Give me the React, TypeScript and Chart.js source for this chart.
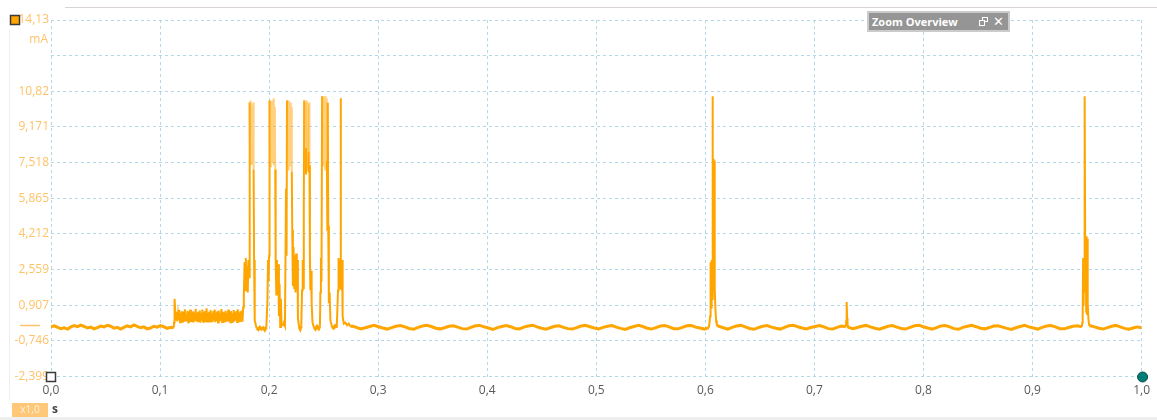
import React, { useEffect, useRef } from "react";
import { Chart, registerables } from "chart.js";
Chart.register(...registerables);

// ---------- axis definitions ----------
const xTicks = [0, 0.1, 0.2, 0.3, 0.4, 0.5, 0.6, 0.7, 0.8, 0.9, 1.0];
const xTickLabels = ["0,0", "0,1", "0,2", "0,3", "0,4", "0,5", "0,6", "0,7", "0,8", "0,9", "1,0"];
const yTicks = [-2.399, -0.746, 0.907, 2.559, 4.212, 5.865, 7.518, 9.171, 10.82, 12.477, 14.13];
const yTickLabels = ["-2,399", "-0,746", "0,907", "2,559", "4,212", "5,865", "7,518", "9,171", "10,82", "", "14,13"];
const yUnit = "mA";
const xUnit = "s";
const zoomFactorLabel = "x1,0";
const overviewTitle = "Zoom Overview";

// ---------- current trace (time in s, current in mA) ----------
// uniformly sampled stretches: values between a start and end time
const idleA = { start: 0, end: 0.1125, values: [-0.1, -0.05, -0.12, -0.18, -0.14, -0.2, -0.1, -0.04, -0.09, -0.02, -0.08, -0.15, -0.11, -0.19, -0.13, -0.06, -0.1, -0.03, -0.07, -0.16, -0.12, -0.2, -0.12, -0.05, -0.1, -0.01, -0.08, -0.14, -0.1, -0.19, -0.15, -0.07, -0.11, -0.04, -0.09, -0.17, -0.12, -0.14] };

const stepUp: [number, number][] = [
  [0.1128, 0.1], [0.1131, 0.9], [0.1135, 1.2], [0.1140, 0.5],
];

const preBurst = { start: 0.1146, end: 0.1762, values: [0.2, 0.6, 0.15, 0.5, 0.22, 0.68, 0.12, 0.55, 0.18, 0.62, 0.1, 0.58, 0.2, 0.72, 0.14, 0.5, 0.17, 0.65, 0.12, 0.6, 0.2, 0.7, 0.13, 0.52, 0.16, 0.62, 0.11, 0.57, 0.19, 0.74, 0.15, 0.55, 0.12, 0.6, 0.18, 0.66, 0.1, 0.53, 0.2, 0.7, 0.14, 0.58, 0.17, 0.63, 0.12, 0.76, 0.15, 0.55, 0.19, 0.6, 0.11, 0.68, 0.16, 0.52, 0.13, 0.64, 0.2, 0.7, 0.12, 0.57, 0.18, 0.62, 0.1, 0.66, 0.15, 0.54, 0.19, 0.73, 0.13, 0.6, 0.17, 0.58, 0.11, 0.65, 0.2, 0.55, 0.14, 0.7, 0.16, 0.6, 0.12, 0.63, 0.18, 0.52, 0.1, 0.68, 0.15, 0.58, 0.2, 0.64, 0.13, 0.72, 0.17, 0.56, 0.12, 0.62, 0.19, 0.66, 0.14, 0.8] };

const burst: [number, number][] = [
  [0.1768, 1.3], [0.1775, 2.9], [0.178, 1.6], [0.1786, 3.1], [0.1792, 1.8], [0.1798, 2.7], [0.1804, 1.5], [0.181, 3.0], [0.1816, 2.2],
  [0.1822, 10.3], [0.1826, 7.5], [0.183, 10.4], [0.1834, 7.6], [0.1838, 9.8], [0.1842, 7.4], [0.1846, 10.2], [0.185, 7.7], [0.1854, 10.3], [0.1858, 7.2], [0.1862, 3.0], [0.1866, 1.0], [0.187, 0.2],
  [0.1885, -0.15], [0.19, -0.22], [0.1915, -0.12], [0.193, -0.2], [0.1945, -0.14], [0.196, -0.24], [0.1975, -0.1],
  [0.1985, 1.2], [0.199, 3.0], [0.1995, 2.0], [0.2, 3.2],
  [0.2004, 10.4], [0.2008, 7.6], [0.2012, 10.3], [0.2016, 7.3], [0.202, 9.0], [0.2024, 7.8], [0.2028, 10.4], [0.2032, 7.5], [0.2036, 10.2], [0.204, 7.4], [0.2044, 10.5], [0.2048, 7.9], [0.2052, 10.1], [0.2056, 7.2], [0.206, 3.1],
  [0.2066, 1.4], [0.2072, 3.0], [0.2078, 1.6], [0.2084, 2.8], [0.209, 0.4], [0.2096, 1.9], [0.2102, -0.1], [0.2108, 1.2], [0.2114, 0.0],
  [0.2125, -0.05], [0.2135, 0.1], [0.2145, -0.05],
  [0.215, 3.0], [0.2155, 6.3], [0.216, 3.2], [0.2164, 10.4], [0.2168, 7.5], [0.2172, 10.2], [0.2176, 7.2], [0.218, 10.4], [0.2184, 7.6], [0.2188, 9.9], [0.2192, 7.4], [0.2196, 10.3], [0.22, 7.8], [0.2204, 10.1], [0.2208, 7.1], [0.2212, 4.4], [0.2218, 1.8], [0.2224, 3.6], [0.223, 1.7], [0.2236, 3.2], [0.2242, 1.5], [0.2248, 3.3], [0.2254, 1.6], [0.226, 3.0], [0.2264, 0.3],
  [0.2275, -0.1], [0.2285, -0.2], [0.2295, -0.05],
  [0.2302, 1.6], [0.2308, 3.0], [0.2314, 1.7], [0.2318, 5.6],
  [0.2322, 10.4], [0.2326, 7.4], [0.233, 10.3], [0.2334, 7.0], [0.2338, 8.2], [0.2342, 7.3], [0.2346, 10.4], [0.235, 7.6], [0.2354, 10.2], [0.2358, 7.1], [0.2362, 8.0], [0.2366, 10.3], [0.237, 7.4], [0.2374, 3.2], [0.2378, 1.6], [0.2385, 2.5], [0.239, 1.0], [0.2398, 0.1],
  [0.241, -0.1], [0.2425, -0.2], [0.244, -0.08], [0.2455, -0.18], [0.2466, -0.05],
  [0.247, 1.5], [0.2475, 3.1], [0.248, 2.0],
  [0.2486, 10.6], [0.249, 7.6], [0.2494, 10.5], [0.2498, 7.4], [0.2502, 10.6], [0.2506, 7.8], [0.251, 10.4], [0.2514, 7.2], [0.2518, 10.6], [0.2522, 7.5], [0.2526, 10.5], [0.253, 7.6], [0.2534, 4.4], [0.2538, 10.3], [0.2542, 4.6], [0.2548, 1.0], [0.2555, 1.5], [0.2562, 0.2],
  [0.2575, -0.05], [0.259, -0.15], [0.2605, -0.05], [0.262, -0.14],
  [0.2632, 1.6], [0.2637, 3.1], [0.2642, 1.7], [0.2647, 3.0], [0.2652, 1.8], [0.2656, 10.5], [0.2659, 3.1], [0.2664, 1.6], [0.2669, 3.0], [0.2674, 0.4],
  [0.2685, 0.05], [0.27, 0.1], [0.2715, -0.02], [0.273, 0.05], [0.2745, -0.08],
];

const idleB = { start: 0.276, end: 0.6032, values: [-0.06, -0.12, -0.19, -0.14, -0.08, -0.03, -0.09, -0.15, -0.2, -0.13, -0.07, -0.04, -0.1, -0.17, -0.21, -0.12, -0.06, -0.02, -0.08, -0.16, -0.19, -0.14, -0.07, -0.05, -0.11, -0.18, -0.2, -0.12, -0.05, -0.03, -0.1, -0.15, -0.22, -0.13, -0.08, -0.04, -0.09, -0.17, -0.19, -0.11, -0.06, -0.02, -0.1, -0.16, -0.21, -0.14, -0.07, -0.05, -0.12, -0.18, -0.2, -0.13, -0.06, -0.03, -0.09, -0.15, -0.19, -0.12, -0.07, -0.04, -0.11, -0.17, -0.22, -0.14, -0.08, -0.02, -0.08, -0.16, -0.2, -0.13, -0.06, -0.04, -0.1, -0.18, -0.19, -0.12, -0.05, -0.03, -0.11, -0.15, -0.2, -0.13] };

const spikeA: [number, number][] = [
  [0.6038, 0.1], [0.6044, 0.4], [0.6048, 2.9], [0.6053, 0.8], [0.6058, 3.0], [0.6062, 1.2], [0.6066, 10.6], [0.6069, 2.0], [0.6072, 7.7], [0.6076, 1.6], [0.608, 7.6], [0.6084, 1.5], [0.6088, 1.7], [0.6092, 0.8], [0.6098, 0.2], [0.6105, 0.0], [0.6115, -0.05],
];

const idleC = { start: 0.6125, end: 0.7288, values: [-0.08, -0.14, -0.2, -0.12, -0.06, -0.03, -0.1, -0.17, -0.21, -0.13, -0.07, -0.04, -0.11, -0.16, -0.2, -0.12, -0.05, -0.02, -0.09, -0.15, -0.19, -0.13, -0.08, -0.04, -0.1, -0.18, -0.2, -0.12, -0.06, -0.09] };

const spikeB: [number, number][] = [
  [0.7292, 0.2], [0.7295, 0.7], [0.7297, 1.05], [0.73, 0.3], [0.7304, -0.05],
];

const idleD = { start: 0.7312, end: 0.9452, values: [-0.12, -0.18, -0.13, -0.07, -0.03, -0.1, -0.16, -0.21, -0.14, -0.07, -0.04, -0.11, -0.17, -0.2, -0.12, -0.05, -0.02, -0.09, -0.15, -0.2, -0.13, -0.06, -0.04, -0.1, -0.18, -0.21, -0.12, -0.07, -0.03, -0.09, -0.16, -0.19, -0.13, -0.06, -0.05, -0.11, -0.17, -0.22, -0.14, -0.08, -0.03, -0.1, -0.15, -0.2, -0.12, -0.06, -0.04, -0.1, -0.18, -0.19, -0.13, -0.07, -0.05, -0.1] };

const spikeC: [number, number][] = [
  [0.9457, 0.1], [0.946, 0.5], [0.9464, 3.1], [0.9468, 0.9], [0.9472, 3.0], [0.9476, 1.5], [0.948, 10.6], [0.9484, 2.0], [0.9488, 3.6], [0.9492, 0.6], [0.9496, 4.1], [0.95, 0.5], [0.9504, 4.0], [0.9508, 1.0], [0.9512, 0.3], [0.952, -0.05],
];

const idleE = { start: 0.953, end: 1.0, values: [-0.05, -0.1, -0.16, -0.2, -0.13, -0.07, -0.03, -0.1, -0.17, -0.21, -0.15, -0.1, -0.14] };

// ---------- style ----------
const TRACE = "#FFA500";
const TRACE_LIGHT = "rgba(255,170,20,0.55)";
const LABEL_ORANGE = "#ffc266";
const GRID = "#b3d9e8";
const FONT = "'Open Sans', 'Noto Sans', sans-serif";

function sampled(seg: { start: number; end: number; values: number[] }) {
  const n = seg.values.length;
  const step = (seg.end - seg.start) / (n - 1);
  return seg.values.map((v, i) => ({ x: seg.start + i * step, y: v }));
}
const pairs = (a: [number, number][]) => a.map(([x, y]) => ({ x, y }));

const tracePoints = [
  ...sampled(idleA),
  ...pairs(stepUp),
  ...sampled(preBurst),
  ...pairs(burst),
  ...sampled(idleB),
  ...pairs(spikeA),
  ...sampled(idleC),
  ...pairs(spikeB),
  ...sampled(idleD),
  ...pairs(spikeC),
  ...sampled(idleE),
];

const overlayPlugin = {
  id: "scopeOverlay",
  beforeDraw(chart: any) {
    const ctx = chart.ctx;
    ctx.save();
    ctx.fillStyle = "#ffffff";
    ctx.fillRect(0, 0, chart.width, chart.height);
    ctx.strokeStyle = "#d9d2d2";
    ctx.lineWidth = 1;
    ctx.beginPath();
    ctx.moveTo(65, 7.5);
    ctx.lineTo(chart.width, 7.5);
    ctx.stroke();
    ctx.strokeStyle = "#efefef";
    ctx.beginPath();
    ctx.moveTo(9.5, 30);
    ctx.lineTo(9.5, 400);
    ctx.stroke();
    ctx.fillStyle = "#eeeeee";
    ctx.fillRect(0, 417, chart.width, 3);
    ctx.restore();
  },
  afterDraw(chart: any) {
    const { ctx, scales } = chart;
    const x = scales.x;
    const y = scales.y;
    ctx.save();
    const y0 = Math.round(y.getPixelForValue(0)) + 0.5;
    ctx.strokeStyle = LABEL_ORANGE;
    ctx.lineWidth = 1.5;
    ctx.beginPath();
    ctx.moveTo(20, y0);
    ctx.lineTo(40, y0);
    ctx.stroke();
    ctx.font = `12px ${FONT}`;
    ctx.fillStyle = LABEL_ORANGE;
    ctx.textAlign = "right";
    ctx.textBaseline = "middle";
    ctx.fillText(yUnit, 48, 40);
    ctx.fillStyle = TRACE;
    ctx.fillRect(10.5, 15.5, 9, 9);
    ctx.strokeStyle = "#3a3a3a";
    ctx.lineWidth = 1.5;
    ctx.strokeRect(10.5, 15.5, 9, 9);
    const bx = Math.round(x.left);
    const by = Math.round(y.bottom);
    ctx.fillStyle = "#ffffff";
    ctx.fillRect(bx - 4.5, by - 4.5, 9, 9);
    ctx.strokeStyle = "#3a3a3a";
    ctx.lineWidth = 1.5;
    ctx.strokeRect(bx - 4.5, by - 4.5, 9, 9);
    ctx.beginPath();
    ctx.arc(x.right + 1, y.bottom + 0.5, 5, 0, Math.PI * 2);
    ctx.fillStyle = "#007d78";
    ctx.fill();
    ctx.strokeStyle = "#0b4d4a";
    ctx.lineWidth = 1;
    ctx.stroke();
    ctx.fillStyle = "#ffc878";
    ctx.fillRect(12, 403, 36, 14);
    ctx.font = `10px ${FONT}`;
    ctx.fillStyle = "#fff3de";
    ctx.textAlign = "center";
    ctx.fillText(zoomFactorLabel, 30, 410.5);
    ctx.font = `bold 12px ${FONT}`;
    ctx.fillStyle = "#444444";
    ctx.textAlign = "left";
    ctx.fillText(xUnit, 52, 410);
    ctx.restore();
  },
};

export default function App() {
  const ref = useRef<HTMLCanvasElement | null>(null);

  useEffect(() => {
    document.body.style.margin = "0";
    const canvas = ref.current;
    if (!canvas) return;
    const chart = new Chart(canvas, {
      type: "line",
      data: {
        datasets: [
          {
            data: tracePoints,
            borderColor: TRACE,
            borderWidth: 2,
            pointRadius: 0,
            fill: false,
            tension: 0,
            segment: {
              borderColor: (c: any) =>
                Math.max(c.p0.parsed.y, c.p1.parsed.y) > 8.3 && Math.min(c.p0.parsed.y, c.p1.parsed.y) > 6.5 ? TRACE_LIGHT : TRACE,
              borderWidth: (c: any) =>
                Math.max(c.p0.parsed.y, c.p1.parsed.y) < 0.05 ? 3 : 2,
            },
          } as any,
        ],
      },
      options: {
        responsive: false,
        devicePixelRatio: 1,
        animation: false,
        parsing: false,
        normalized: true,
        events: [],
        layout: { padding: { top: 20, right: 15, bottom: 0, left: 0 } },
        plugins: { legend: { display: false }, tooltip: { enabled: false } },
        scales: {
          x: {
            type: "linear",
            min: 0,
            max: 1,
            afterBuildTicks: (s: any) => {
              s.ticks = xTicks.map((v) => ({ value: v }));
            },
            afterFit: (s: any) => {
              s.height = 43.5;
            },
            ticks: {
              autoSkip: false,
              maxRotation: 0,
              padding: 7,
              color: "#5a5a5a",
              font: { family: FONT, size: 12 },
              callback: (_v: any, i: number) => xTickLabels[i],
            },
            grid: { color: GRID, lineWidth: 1, drawTicks: false },
            border: { display: false, dash: [3, 3] },
          },
          y: {
            type: "linear",
            min: -2.399,
            max: 14.13,
            afterBuildTicks: (s: any) => {
              s.ticks = yTicks.map((v) => ({ value: v }));
            },
            afterFit: (s: any) => {
              s.width = 51;
            },
            ticks: {
              autoSkip: false,
              padding: 2,
              color: LABEL_ORANGE,
              font: { family: FONT, size: 12 },
              callback: (_v: any, i: number) => yTickLabels[i],
            },
            grid: { color: GRID, lineWidth: 1, drawTicks: false },
            border: { display: false, dash: [3, 3] },
          },
        },
      } as any,
      plugins: [overlayPlugin],
    });
    return () => chart.destroy();
  }, []);

  return (
    <div style={{ position: "fixed", left: 0, top: 0, width: 1157, height: 420, background: "#fff", overflow: "hidden" }}>
      <canvas ref={ref} width={1157} height={420} style={{ display: "block", width: 1157, height: 420 }} />
      <div
        style={{
          position: "absolute",
          left: 867,
          top: 11,
          width: 143,
          height: 21,
          boxSizing: "border-box",
          background: "#959595",
          border: "2px solid #cbcbcb",
          display: "flex",
          alignItems: "center",
          fontFamily: FONT,
        }}
      >
        <span style={{ color: "#fff", fontWeight: 700, fontSize: 11, marginLeft: 3, letterSpacing: 0 }}>{overviewTitle}</span>
        <span style={{ position: "relative", marginLeft: "auto", width: 10, height: 9 }}>
          <span style={{ position: "absolute", left: 3, top: 0, width: 6, height: 5, border: "1px solid #fff", boxSizing: "border-box" }} />
          <span style={{ position: "absolute", left: 0, top: 3, width: 6, height: 6, border: "1px solid #fff", background: "#959595", boxSizing: "border-box" }} />
        </span>
        <span style={{ color: "#fff", fontWeight: 700, fontSize: 13, marginLeft: 4, marginRight: 4, fontFamily: "'DejaVu Sans', sans-serif", lineHeight: "13px" }}>✕</span>
      </div>
    </div>
  );
}
